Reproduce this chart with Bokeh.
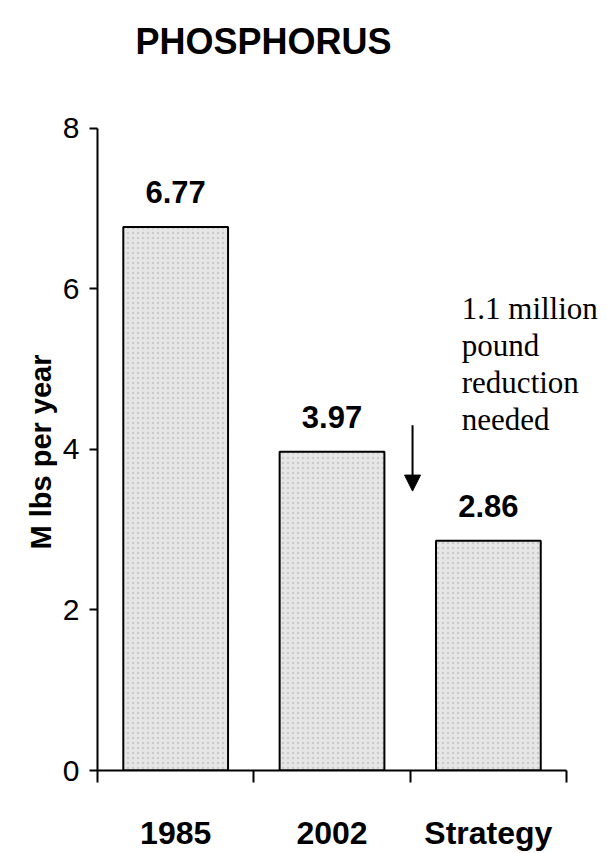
from bokeh.plotting import figure
from bokeh.models import ColumnDataSource, FixedTicker, Label, Arrow, NormalHead, Title
from bokeh.core.properties import value
from bokeh.embed import file_html
from bokeh.resources import INLINE

# ---- data ----
categories = ["1985", "2002", "Strategy"]
loads = [6.77, 3.97, 2.86]
value_labels = ["6.77", "3.97", "2.86"]
y_ticks = [0, 2, 4, 6, 8]
note_lines = ["1.1 million", "pound", "reduction", "needed"]
title_text = "PHOSPHORUS"
y_label = "M lbs per year"

# ---- layout constants ----
FONT = "Liberation Sans"
SERIF = "Liberation Serif"
BAR_W = 0.67
Y_MAX = 8                # axis extent
Y_TOP = 9.59             # plot area reaches the top of the page (room for title)
X_EXTRA = 0.262          # room at right of the axis for the note
NOTE_X, NOTE_Y, NOTE_STEP = 2.33, 5.75, 37
ARROW_X, ARROW_FROM, ARROW_TO = 2.015, 4.30, 3.48
TITLE_X, TITLE_Y = 0.243, 9.083
YLABEL_OFFSET = 221      # px from bottom of plot area to start of y label

n = len(categories)
xs = [i + 0.5 for i in range(n)]
edges = list(range(n + 1))
src = ColumnDataSource(dict(x=xs, top=loads, label=value_labels, cat=categories))

p = figure(width=607, height=853, x_range=(0, n + X_EXTRA), y_range=(0, Y_TOP),
           output_backend="svg", toolbar_location=None, title=None,
           min_border_left=97, min_border_right=0, min_border_top=0, min_border_bottom=74)
p.background_fill_color = "white"
p.border_fill_color = "white"
p.outline_line_color = None
p.xgrid.visible = False
p.ygrid.visible = False

# title
p.add_layout(Label(x=TITLE_X, y=TITLE_Y, text=title_text, text_font=FONT,
                   text_font_style="bold", text_font_size="36px", text_color="black",
                   text_align="left", text_baseline="alphabetic"))

# x axis
xa = p.below[0]
xa.bounds = (0, n)
xa.ticker = FixedTicker(ticks=xs, minor_ticks=edges)
xa.major_label_overrides = dict(zip(xs, categories))
xa.major_tick_out = 0
xa.major_tick_in = 0
xa.minor_tick_out = 12
xa.minor_tick_in = 0
xa.minor_tick_line_width = 2
xa.minor_tick_line_color = "black"
xa.axis_line_width = 2
xa.axis_line_color = "black"
xa.major_label_standoff = 32
xa.major_label_text_font = FONT
xa.major_label_text_font_style = "bold"
xa.major_label_text_font_size = "32px"
xa.major_label_text_color = "black"

# y axis
ya = p.left[0]
ya.bounds = (0, Y_MAX)
ya.ticker = FixedTicker(ticks=y_ticks)
ya.major_tick_out = 8
ya.major_tick_in = 0
ya.minor_tick_out = 0
ya.minor_tick_in = 0
ya.major_tick_line_width = 2
ya.major_tick_line_color = "black"
ya.axis_line_width = 2
ya.axis_line_color = "black"
ya.major_label_standoff = 10
ya.major_label_text_font = FONT
ya.major_label_text_font_size = "30px"
ya.major_label_text_color = "black"

# y axis title (placed along the 0..8 part of the axis)
p.add_layout(Title(text=y_label, text_font=FONT, text_font_style="bold",
                   text_font_size="29px", text_color="black", align="left",
                   vertical_align="bottom", offset=YLABEL_OFFSET, standoff=6), "left")

# bars
p.vbar(x="x", top="top", bottom=0, width=BAR_W, source=src,
       fill_color="#e6e6e6", line_color="black", line_width=2,
       hatch_pattern="dot", hatch_color="#b8b8b8", hatch_scale=5, hatch_alpha=0.6)

# value labels
p.text(x="x", y="top", text="label", source=src, text_align="center",
       text_baseline="alphabetic", y_offset=-35, text_font=value(FONT),
       text_font_style="bold", text_font_size="31px", text_color="black")

# note
for i, line in enumerate(note_lines):
    p.add_layout(Label(x=NOTE_X, y=NOTE_Y, text=line, y_offset=-NOTE_STEP * i,
                       text_font=SERIF, text_font_size="31px", text_color="black",
                       text_baseline="alphabetic", text_align="left"))

p.add_layout(Arrow(x_start=ARROW_X, y_start=ARROW_FROM, x_end=ARROW_X, y_end=ARROW_TO,
                   line_width=2, line_color="black",
                   end=NormalHead(size=16, fill_color="black", line_color="black")))

open("out.html", "w").write(file_html(p, INLINE))
